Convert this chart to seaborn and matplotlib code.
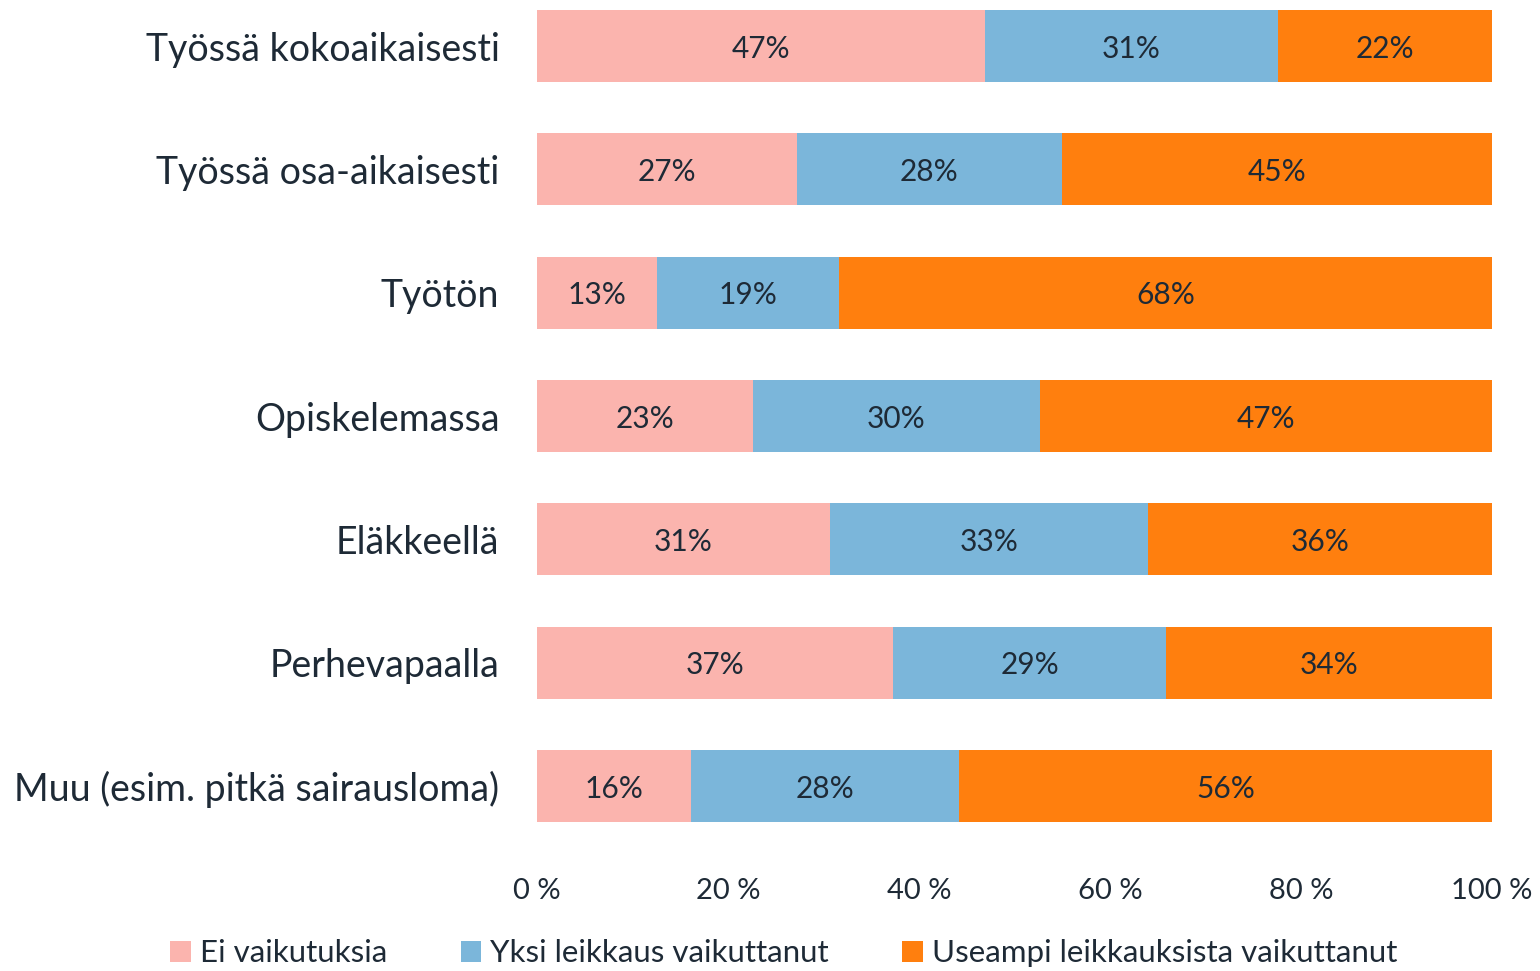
import numpy as np
import pandas as pd
import matplotlib
matplotlib.use("Agg")
import matplotlib.pyplot as plt
import seaborn as sns
from matplotlib.patches import Patch

# ── Data ──────────────────────────────────────────────────────────────────────
categories = [
    "Työssä kokoaikaisesti",
    "Työssä osa-aikaisesti",
    "Työtön",
    "Opiskelemassa",
    "Eläkkeellä",
    "Perhevapaalla",
    "Muu (esim. pitkä sairausloma)",
]
series = ["Ei vaikutuksia", "Yksi leikkaus vaikuttanut", "Useampi leikkauksista vaikuttanut"]
ei_vaikutuksia = [46.9, 27.2, 12.6, 22.6, 30.7, 37.3, 16.1]
yksi_leikkaus = [30.7, 27.8, 19.0, 30.1, 33.3, 28.6, 28.1]
useampi = [22.4, 45.0, 68.4, 47.3, 36.0, 34.1, 55.8]
xticks = [0, 20, 40, 60, 80, 100]
xtick_labels = ["0 %", "20 %", "40 %", "60 %", "80 %", "100 %"]

colors = ["#FBB4AE", "#7BB6DA", "#FF7F0E"]
text_color = "#1E2A36"

df = pd.DataFrame({"cat": categories, series[0]: ei_vaikutuksia,
                   series[1]: yksi_leikkaus, series[2]: useampi})
df["c1"] = df[series[0]]
df["c2"] = df["c1"] + df[series[1]]
df["c3"] = df["c2"] + df[series[2]]

# ── Plot ──────────────────────────────────────────────────────────────────────
sns.set_style("white")
plt.rcParams["font.family"] = ["Lato", "DejaVu Sans"]

fig = plt.figure(figsize=(15.4, 9.71), dpi=100)
ax = fig.add_axes([0.3487, 0.1534, 0.6201, 0.8363])

bar_h = 0.584
# stacked: draw totals first, then overlay shorter cumulative bars
for col, color in zip(["c3", "c2", "c1"], colors[::-1]):
    sns.barplot(data=df, x=col, y="cat", color=color, width=bar_h,
                saturation=1, linewidth=0, ax=ax)

# percentage labels centred in each segment
for i in range(len(categories)):
    starts = [0, df["c1"][i], df["c2"][i]]
    vals = [ei_vaikutuksia[i], yksi_leikkaus[i], useampi[i]]
    for s, v in zip(starts, vals):
        ax.text(s + v / 2, i, f"{round(v)}%", ha="center", va="center_baseline",
                fontsize=21.5, color=text_color)

ax.set_xlim(0, 100)
ax.set_ylim(len(categories) - 1 + bar_h / 2, -bar_h / 2)
ax.set_xticks(xticks)
ax.set_xticklabels(xtick_labels)
ax.set_xlabel("")
ax.set_ylabel("")
ax.tick_params(axis="x", length=0, pad=40, labelsize=21, labelcolor=text_color)
ax.tick_params(axis="y", length=0, pad=27, labelsize=27, labelcolor=text_color)
sns.despine(ax=ax, left=True, bottom=True)

handles = [Patch(facecolor=c, edgecolor="none") for c in colors]
fig.legend(handles, series, loc="lower center", bbox_to_anchor=(0.509, -0.025),
           ncol=3, frameon=False, fontsize=22.5, labelcolor=text_color,
           handlelength=0.65, handleheight=0.65, handletextpad=0.3,
           columnspacing=2.35)

fig.savefig("out.png", dpi=100)
